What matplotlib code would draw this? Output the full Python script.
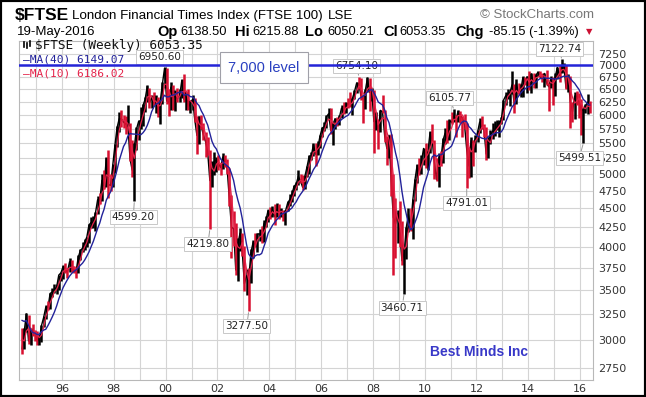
import numpy as np
import pandas as pd
import matplotlib
matplotlib.use('Agg')
import matplotlib.pyplot as plt
from matplotlib.patches import Rectangle


# Monthly bars, Jun 1994 .. May 2016 (close / high / low).
start_year = 1994
start_month = 6

close = [
    2919, 3082, 3251, 2991, 3097, 3081, 3066,
    2991, 3009, 3137, 3216, 3319, 3315, 3463, 3477, 3508, 3529, 3664, 3689,
    3760, 3728, 3699, 3818, 3748, 3711, 3703, 3867, 3953, 3980, 4058, 4119,
    4276, 4309, 4312, 4436, 4621, 4604, 4907, 4817, 5244, 4842, 4831, 5136,
    5458, 5767, 5932, 5928, 5870, 5833, 5837, 5249, 5064, 5438, 5744, 5883,
    5896, 6176, 6296, 6552, 6226, 6319, 6231, 6246, 6030, 6256, 6597, 6930,
    6268, 6233, 6540, 6327, 6359, 6313, 6365, 6673, 6294, 6438, 6142, 6223,
    6298, 5918, 5634, 5967, 5796, 5643, 5529, 5345, 4903, 5040, 5204, 5217,
    5165, 5102, 5272, 5166, 5086, 4657, 4246, 4228, 3722, 4040, 4170, 3940,
    3567, 3656, 3613, 3926, 4048, 4031, 4157, 4161, 4091, 4288, 4342, 4477,
    4390, 4492, 4386, 4489, 4430, 4464, 4413, 4459, 4571, 4624, 4703, 4814,
    4852, 4968, 4894, 4801, 4964, 5113, 5282, 5296, 5478, 5317, 5423, 5619,
    5760, 5792, 5965, 6023, 5724, 5833, 5928, 5906, 5961, 6129, 6049, 6221,
    6203, 6172, 6308, 6449, 6621, 6608, 6360, 6303, 6467, 6722, 6432, 6457,
    5880, 5885, 5702, 6087, 6053, 5626, 5412, 5637, 4902, 4377, 4288, 4434,
    4150, 3830, 3926, 4244, 4418, 4249, 4608, 4909, 5134, 5045, 5191, 5413,
    5189, 5355, 5680, 5553, 5188, 4917, 5258, 5225, 5549, 5675, 5528, 5900,
    5863, 5994, 5909, 6070, 5990, 5946, 5815, 5395, 5128, 5544, 5505, 5572,
    5682, 5872, 5768, 5738, 5321, 5571, 5635, 5711, 5742, 5783, 5867, 5898,
    6277, 6361, 6412, 6430, 6583, 6215, 6621, 6413, 6462, 6731, 6651, 6749,
    6510, 6810, 6598, 6780, 6845, 6744, 6730, 6820, 6623, 6546, 6723, 6566,
    6749, 6947, 6773, 6961, 6984, 6521, 6696, 6248, 6062, 6361, 6356, 6242,
    6084, 6097, 6175, 6242, 6053.35,
]

high = [
    3110, 3110, 3260, 3240, 3110, 3150, 3090,
    3080, 3050, 3145, 3230, 3340, 3380, 3470, 3520, 3560, 3560, 3670, 3700,
    3780, 3800, 3740, 3860, 3840, 3770, 3760, 3900, 3970, 4060, 4090, 4120,
    4290, 4380, 4400, 4450, 4680, 4720, 5000, 5060, 5270, 5380, 5000, 5160,
    5490, 5800, 6050, 6100, 6000, 5990, 6180, 5860, 5560, 5500, 5790, 5900,
    6150, 6200, 6350, 6580, 6530, 6380, 6440, 6380, 6350, 6290, 6640, 6950.60,
    6930, 6500, 6640, 6590, 6490, 6530, 6510, 6700, 6800, 6450, 6500, 6280,
    6380, 6330, 5980, 5990, 6000, 5860, 5700, 5600, 5380, 5210, 5360, 5280,
    5300, 5180, 5330, 5300, 5240, 5100, 4690, 4460, 4300, 4110, 4240, 4170,
    4010, 3730, 3740, 3970, 4080, 4170, 4170, 4220, 4260, 4340, 4400, 4480,
    4520, 4540, 4560, 4580, 4560, 4510, 4480, 4480, 4610, 4700, 4760, 4830,
    4880, 5060, 5000, 4980, 4990, 5130, 5300, 5350, 5500, 5500, 5540, 5640,
    5790, 5880, 6000, 6130, 6140, 5860, 5950, 5970, 6000, 6180, 6250, 6240,
    6320, 6440, 6320, 6490, 6640, 6754.10, 6730, 6380, 6500, 6750, 6720, 6520,
    6480, 6060, 5920, 6100, 6380, 6100, 5620, 5650, 5660, 5000, 4650, 4480,
    4610, 4330, 4000, 4250, 4510, 4500, 4630, 4920, 5160, 5250, 5300, 5420,
    5500, 5370, 5710, 5830, 5560, 5250, 5330, 5370, 5590, 5760, 5900, 5920,
    6050, 6105.77, 6000, 6100, 6070, 5990, 6010, 5850, 5440, 5600, 5560, 5640,
    5730, 5950, 5990, 5830, 5780, 5600, 5730, 5860, 5890, 5900, 5900, 5970,
    6290, 6450, 6500, 6450, 6880, 6600, 6700, 6620, 6600, 6770, 6750, 6760,
    6870, 6830, 6820, 6800, 6880, 6880, 6830, 6830, 6900, 6620, 6760, 6750,
    6830, 6960, 7000, 7122.74, 7050, 7000, 6800, 6770, 6250, 6440, 6460, 6420,
    6300, 6140, 6210, 6410, 6270,
]

low = [
    2876, 2920, 3070, 2960, 2955, 3040, 2990,
    2950, 2955, 2980, 3120, 3200, 3290, 3300, 3430, 3470, 3460, 3500, 3600,
    3620, 3690, 3630, 3700, 3700, 3690, 3630, 3690, 3840, 3940, 3960, 3990,
    4050, 4230, 4240, 4200, 4420, 4560, 4600, 4770, 4810, 4650, 4750, 4800,
    5020, 5440, 5700, 5780, 5760, 5660, 5800, 5210, 4950, 4599.20, 5390, 5550,
    5750, 5800, 6050, 6250, 6140, 6130, 6180, 6030, 5970, 5840, 6210, 6530,
    6200, 5990, 6090, 6100, 6080, 6250, 6240, 6320, 6250, 6090, 6100, 6030,
    6100, 5880, 5315, 5480, 5750, 5550, 5280, 5300, 4219.80, 4800, 4990, 5030,
    5060, 4990, 5080, 5110, 5000, 4540, 3860, 4010, 3670, 3600, 3950, 3890,
    3490, 3450, 3277.50, 3580, 3860, 3990, 3940, 4070, 4040, 4060, 4250, 4310,
    4360, 4380, 4280, 4380, 4350, 4380, 4330, 4280, 4460, 4530, 4590, 4680,
    4760, 4840, 4860, 4760, 4780, 4950, 5000, 5220, 5290, 5130, 5300, 5420,
    5600, 5710, 5760, 5900, 5660, 5470, 5740, 5800, 5820, 5940, 6010, 6040,
    6130, 6150, 6000, 6300, 6420, 6500, 6280, 5850, 6110, 6440, 6080, 6260,
    5340, 5730, 5410, 5700, 6030, 5520, 5150, 5250, 4680, 3660, 3860, 4040,
    4000, 3780, 3460.71, 3850, 4180, 4200, 4100, 4600, 4870, 4980, 5000, 5150,
    5100, 5060, 5330, 5520, 4920, 4900, 4800, 5120, 5180, 5480, 5500, 5560,
    5830, 5880, 5600, 5870, 5860, 5600, 5750, 4791.01, 4940, 4950, 5130, 5360,
    5520, 5680, 5750, 5600, 5230, 5260, 5480, 5580, 5620, 5730, 5600, 5830,
    5900, 6180, 6300, 6170, 6400, 6030, 6200, 6390, 6350, 6350, 6580, 6420,
    6490, 6420, 6520, 6530, 6770, 6740, 6640, 6540, 6580, 6070, 6520, 6180,
    6360, 6710, 6650, 6830, 6860, 6500, 6440, 5770, 5870, 5920, 6180, 5950,
    5640, 5499.51, 6040, 6010, 6040,
]

# closes before the first bar, only used to seed the moving averages
warmup_close = [3038, 3171, 3167, 3418, 3491, 3328, 3086, 3126, 2971]

yticks = list(range(2750, 7251, 250))
xtick_years = list(range(1996, 2017, 2))
xtick_labels = ['96', '98', '00', '02', '04', '06', '08', '10', '12', '14', '16']

# (bar index, which end, pixel offset of the label box)
marks = [
    (66, 'high', (-5, 10)),
    (156, 'high', (-2, 11)),
    (250, 'high', (-2, 10)),
    (200, 'high', (-4, 11)),
    (52, 'low', (-1, -16)),
    (87, 'low', (-2, -15)),
    (105, 'low', (-2, -15)),
    (177, 'low', (-2, -14)),
    (206, 'low', (0, -15)),
    (260, 'low', (-4, -15)),
]

W, H = 646, 397


def fx(x):
    return x / W


def fy(y):
    return 1 - y / H


n = len(close)
t = np.array([start_year + (start_month - 1 + i + 0.5) / 12 for i in range(n)])
c = np.array(close, dtype=float)
hi = np.array(high, dtype=float)
lo = np.array(low, dtype=float)

allc = pd.Series(warmup_close + close, dtype=float)
ma40 = allc.rolling(9, min_periods=1).mean().values[len(warmup_close):]
ma10 = allc.rolling(3, min_periods=1).mean().values[len(warmup_close):]

prev = np.concatenate([[warmup_close[-1]], c[:-1]])
bar_colors = ['black' if a >= b else '#d81030' for a, b in zip(c, prev)]

fig = plt.figure(figsize=(W / 100, H / 100), dpi=100)
ax = fig.add_axes([fx(19), 1 - 380 / H, (593 - 19) / W, (380 - 41) / H])

ax.set_yscale('log')
ax.set_ylim(2652, 7537)
ax.set_xlim(1994.34, 2016.50)

ax.plot(t, c, color='black', lw=1.0, zorder=2)
ax.vlines(t, lo, hi, colors=bar_colors, lw=1.8, zorder=2)
ax.plot(t, ma10, color='#e4234a', lw=0.9, zorder=3)
ax.plot(t, ma40, color='#22229a', lw=1.0, zorder=3)
ax.axhline(7000, color='#2424d8', lw=1.8, zorder=5)

ax.yaxis.tick_right()
ax.set_yticks(yticks)
ax.set_yticklabels([str(v) for v in yticks])
ax.yaxis.set_minor_locator(matplotlib.ticker.NullLocator())
ax.set_xticks(xtick_years)
ax.set_xticklabels(xtick_labels)
ax.set_xticks(list(range(1995, 2017)), minor=True)
ax.tick_params(axis='both', which='both', length=0, labelsize=8, colors='#333333')
ax.tick_params(axis='y', pad=4)
ax.tick_params(axis='x', pad=3)
ax.grid(which='both', axis='x', color='#d4d4d4', lw=0.8)
ax.grid(which='major', axis='y', color='#d4d4d4', lw=0.8)
ax.set_axisbelow(True)
for s in ax.spines.values():
    s.set_color('#b8b8b8')

for idx, end, (dx, dy) in marks:
    val = hi[idx] if end == 'high' else lo[idx]
    ax.annotate('%.2f' % val, xy=(t[idx], val), xytext=(dx, dy),
                textcoords='offset pixels', ha='center', va='center',
                fontsize=7.5, color='#222222', zorder=4, annotation_clip=False,
                bbox=dict(boxstyle='square,pad=0.2', fc='white', ec='#c8c8c8', lw=0.7),
                arrowprops=dict(arrowstyle='-', color='#999999', lw=0.7,
                                shrinkA=0, shrinkB=1))

# legend in the top-left corner
for xi, y0, y1 in [(24, 47, 42), (27, 48, 43), (30, 46, 41)]:
    ax.plot([fx(xi), fx(xi)], [fy(y0), fy(y1)], color='black', lw=1.2,
            transform=fig.transFigure, clip_on=False, zorder=4)
ax.text(fx(35), fy(45), '$FTSE (Weekly) 6053.35', transform=fig.transFigure,
        family='DejaVu Sans Mono', fontsize=9.2, va='center', color='#111111', zorder=4)
ax.text(fx(23), fy(60), '\u2014MA(40) 6149.07', transform=fig.transFigure,
        family='DejaVu Sans Mono', fontsize=8, va='center', color='#22229a', zorder=4)
ax.text(fx(23), fy(74), '\u2014MA(10) 6186.02', transform=fig.transFigure,
        family='DejaVu Sans Mono', fontsize=8, va='center', color='#e4234a', zorder=4)

ax.text(fx(264), fy(67.5), '7,000 level', transform=fig.transFigure,
        family='Liberation Sans', fontsize=10.5, color='#2a40c0',
        ha='center', va='center', zorder=6,
        bbox=dict(boxstyle='square,pad=0.6', fc='white', ec='#a0a0a8', lw=0.8))

ax.text(fx(479), fy(352), 'Best Minds Inc', transform=fig.transFigure,
        family='Liberation Sans', fontsize=10, weight='bold', color='#3838c8',
        ha='center', va='center', zorder=6)

# header lines
fig.text(fx(15), fy(15), '$FTSE', family='Liberation Sans', fontsize=12.5,
         weight='bold', va='center')
fig.text(fx(72), fy(16), 'London Financial Times Index (FTSE 100)',
         family='Liberation Sans', fontsize=9.6, va='center')
fig.text(fx(328), fy(16), 'LSE', family='Liberation Sans', fontsize=9.6, va='center')
fig.text(fx(594), fy(15), '\u00a9 StockCharts.com', family='Liberation Sans',
         fontsize=9.5, va='center', ha='right', color='#777777')
fig.text(fx(17), fy(32), '19-May-2016', family='Liberation Sans', fontsize=9.5,
         va='center')

quote = [
    (157, 'Op', True), (180, '6138.50', False),
    (235, 'Hi', True), (252, '6215.88', False),
    (305, 'Lo', True), (327, '6050.21', False),
    (383, 'Cl', True), (399, '6053.35', False),
    (455, 'Chg', True), (489, '-85.15 (-1.39%)', False),
]
for xq, s, bold in quote:
    fig.text(fx(xq), fy(32), s, family='Liberation Sans',
             fontsize=10.5 if bold else 9.3, weight='bold' if bold else 'normal',
             va='center')
fig.text(fx(586), fy(32), '\u25bc', family='DejaVu Sans', fontsize=6,
         color='#cc1133', va='center')

fig.patches.append(Rectangle((0, 0), 1, 1, transform=fig.transFigure,
                             fill=False, edgecolor='black', lw=3))

fig.savefig('out.png', dpi=100)
